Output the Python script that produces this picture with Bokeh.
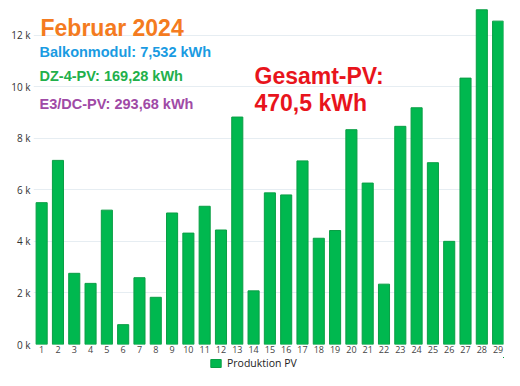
from bokeh.plotting import figure
from bokeh.layouts import column
from bokeh.models import Range1d, Label, Legend, LegendItem, CustomJSTickFormatter, FixedTicker, ColumnDataSource
from bokeh.embed import file_html
from bokeh.resources import INLINE

days = list(range(1, 30))
production_wh = [5500, 7140, 2760, 2370, 5210, 770, 2590, 1830, 5100, 4320,
                 5360, 4440, 8820, 2080, 5880, 5800, 7120, 4120, 4420, 8330,
                 6260, 2340, 8460, 9180, 7050, 4000, 10330, 12980, 12540]
y_ticks = [0, 2000, 4000, 6000, 8000, 10000, 12000]
series_name = "Produktion PV"
title_text = "Februar 2024"
info_lines = ["Balkonmodul: 7,532 kWh", "DZ-4-PV: 169,28 kWh", "E3/DC-PV: 293,68 kWh"]
info_colors = ["#1a9be2", "#22b04b", "#a04aa6"]
total_lines = ["Gesamt-PV:", "470,5 kWh"]

BAR_FILL = "#00b84f"
BAR_LINE = "#0a9e45"

src = ColumnDataSource(dict(x=days, y=production_wh))

p = figure(width=504, height=357, output_backend="svg", toolbar_location=None,
           title=None, x_range=Range1d(0.5, 29.33), y_range=Range1d(0, 13340),
           min_border_left=33, min_border_right=1, min_border_top=0, min_border_bottom=13)
p.outline_line_color = None
p.background_fill_color = "white"

r = p.vbar(x="x", top="y", width=0.68, source=src, fill_color=BAR_FILL,
           line_color=BAR_LINE, line_width=1)

p.xgrid.grid_line_color = None
p.ygrid.grid_line_color = "#e6edf2"
p.ygrid.ticker = FixedTicker(ticks=y_ticks)

p.yaxis.ticker = FixedTicker(ticks=y_ticks)
p.yaxis.formatter = CustomJSTickFormatter(code="return (tick/1000).toFixed(0) + ' k'")
p.yaxis.axis_line_color = None
p.yaxis.major_tick_line_color = None
p.yaxis.minor_tick_line_color = None
p.yaxis.major_tick_out = 0
p.yaxis.major_label_standoff = 3
p.yaxis.major_label_text_font = "Open Sans"
p.yaxis.major_label_text_font_size = "10px"
p.yaxis.major_label_text_color = "#333333"

p.xaxis.ticker = FixedTicker(ticks=days)
p.xaxis.axis_line_color = None
p.xaxis.major_tick_line_color = None
p.xaxis.minor_tick_line_color = None
p.xaxis.major_tick_out = 0
p.xaxis.major_tick_in = 0
p.xaxis.major_label_standoff = 1
p.xaxis.major_label_text_font = "Open Sans"
p.xaxis.major_label_text_font_size = "9px"
p.xaxis.major_label_text_color = "#444444"

def lab(text, x, y, size, color):
    p.add_layout(Label(x=x, y=y, x_units="screen", y_units="screen", text=text,
                       text_font="Liberation Sans", text_font_style="bold",
                       text_font_size=size, text_color=color,
                       text_baseline="alphabetic"))

lab(title_text, 7, 317, "23px", "#f47b20")
for t, c, yy in zip(info_lines, info_colors, [292.3, 268.2, 241]):
    lab(t, 6, yy, "14.5px", c)
lab(total_lines[0], 221, 268.5, "23px", "#e8141c")
lab(total_lines[1], 221, 242, "23px", "#e8141c")

# legend strip below the chart (same series; its bars fall far outside this strip's ranges)
p2 = figure(width=504, height=13, output_backend="svg", toolbar_location=None,
            title=None, x_range=Range1d(-100, -99), y_range=Range1d(-100000, -99000),
            x_axis_location=None, y_axis_location=None, min_border=0)
p2.outline_line_color = None
p2.grid.visible = False
r2 = p2.vbar(x="x", top="y", width=0.68, source=src, fill_color=BAR_FILL, line_color=BAR_LINE)
legend = Legend(items=[LegendItem(label=series_name, renderers=[r2])],
                location=(176, 0), orientation="horizontal",
                border_line_color=None, background_fill_alpha=0,
                padding=0, margin=0, spacing=0,
                glyph_width=13, glyph_height=10, label_standoff=5,
                label_text_font="Open Sans", label_text_font_size="10.5px",
                label_text_color="#222222", label_height=10)
p2.add_layout(legend, "center")

layout = column(p, p2, spacing=0)
open("out.html", "w").write(file_html(layout, INLINE))
